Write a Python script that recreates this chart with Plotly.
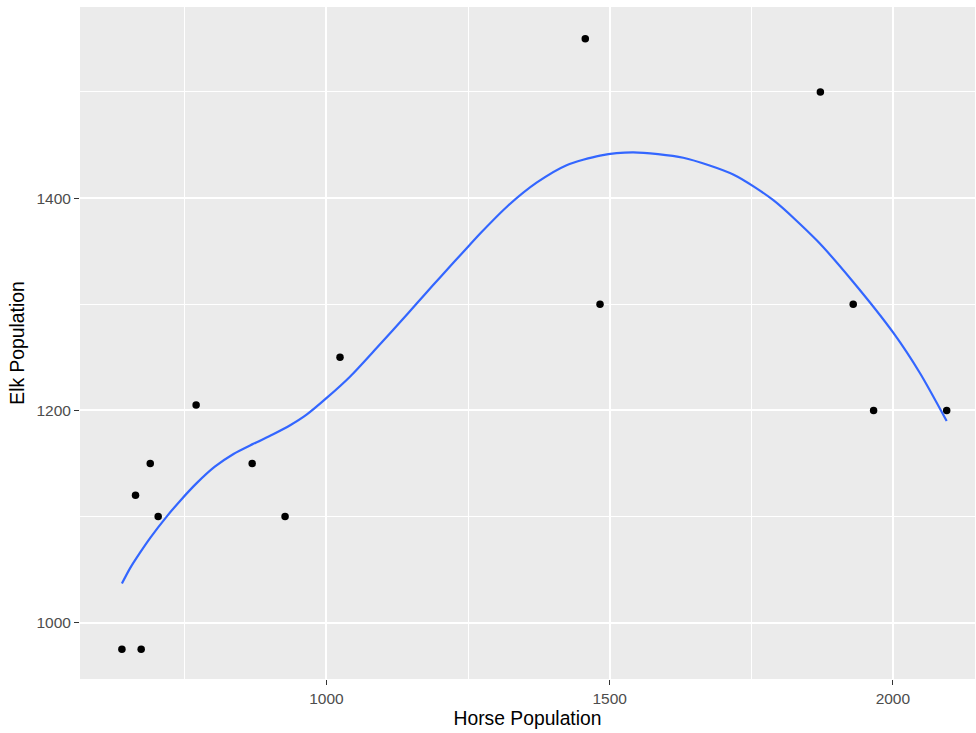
import plotly.graph_objects as go

horse = [639, 673, 663, 689, 703, 770, 869, 927, 1024, 1457, 1483, 1872, 1930, 1966, 2095]
elk = [975, 975, 1120, 1150, 1100, 1205, 1150, 1100, 1250, 1550, 1300, 1500, 1300, 1200, 1200]

smooth_x = [639, 653, 671, 689, 718, 742, 771, 803, 836, 871, 906, 936, 965, 1001, 1042,
            1089, 1145, 1174, 1201, 1248, 1274, 1321, 1371, 1424, 1483, 1542, 1630, 1719,
            1789, 1866, 1930, 2001, 2048, 2095]
smooth_y = [1037, 1051, 1066, 1080, 1100, 1115, 1131.5, 1147, 1159, 1168.5, 1177.5, 1186, 1196, 1212, 1232,
            1259, 1292, 1309.5, 1325.5, 1353, 1368, 1393, 1414.5, 1431, 1440, 1443, 1438, 1422,
            1398, 1360, 1321, 1273, 1235, 1190]

x_ticks = [1000, 1500, 2000]
y_ticks = [1000, 1200, 1400]

fig = go.Figure()
fig.add_trace(go.Scatter(x=horse, y=elk, mode="markers",
                         marker=dict(color="black", size=7.5), showlegend=False))
fig.add_trace(go.Scatter(x=smooth_x, y=smooth_y, mode="lines",
                         line=dict(color="#3366FF", width=2.2, shape="spline", smoothing=0.7),
                         showlegend=False))

FONT = "Liberation Sans, Arial"
axis_common = dict(showgrid=True, gridcolor="white", gridwidth=1.6, zeroline=False,
                   ticks="outside", ticklen=5, tickcolor="#333333", tickwidth=1,
                   tickfont=dict(family=FONT, size=15.5, color="#4D4D4D"),
                   showline=False, automargin=False)

fig.update_layout(
    width=976, height=733,
    margin=dict(l=80, r=1, t=7, b=54, pad=0),
    paper_bgcolor="white", plot_bgcolor="#EBEBEB",
    font=dict(family=FONT, color="black"),
    xaxis=dict(range=[565, 2145], tickvals=x_ticks, ticktext=[str(v) for v in x_ticks],
               minor=dict(tickvals=[750, 1250, 1750], showgrid=True, gridcolor="white",
                          gridwidth=0.8, ticks=""),
               title=dict(text="Horse Population", font=dict(family=FONT, size=19.3, color="black"),
                          standoff=5),
               **axis_common),
    yaxis=dict(range=[947, 1580], tickvals=y_ticks, ticktext=[str(v) for v in y_ticks],
               minor=dict(tickvals=[1100, 1300, 1500], showgrid=True, gridcolor="white",
                          gridwidth=0.8, ticks=""),
               title=dict(text="Elk Population", font=dict(family=FONT, size=19.3, color="black"),
                          standoff=6),
               **axis_common),
)

fig.write_html("out.html", config={"displayModeBar": False},
               post_script="document.body.style.margin='0';document.body.style.padding='0';")
